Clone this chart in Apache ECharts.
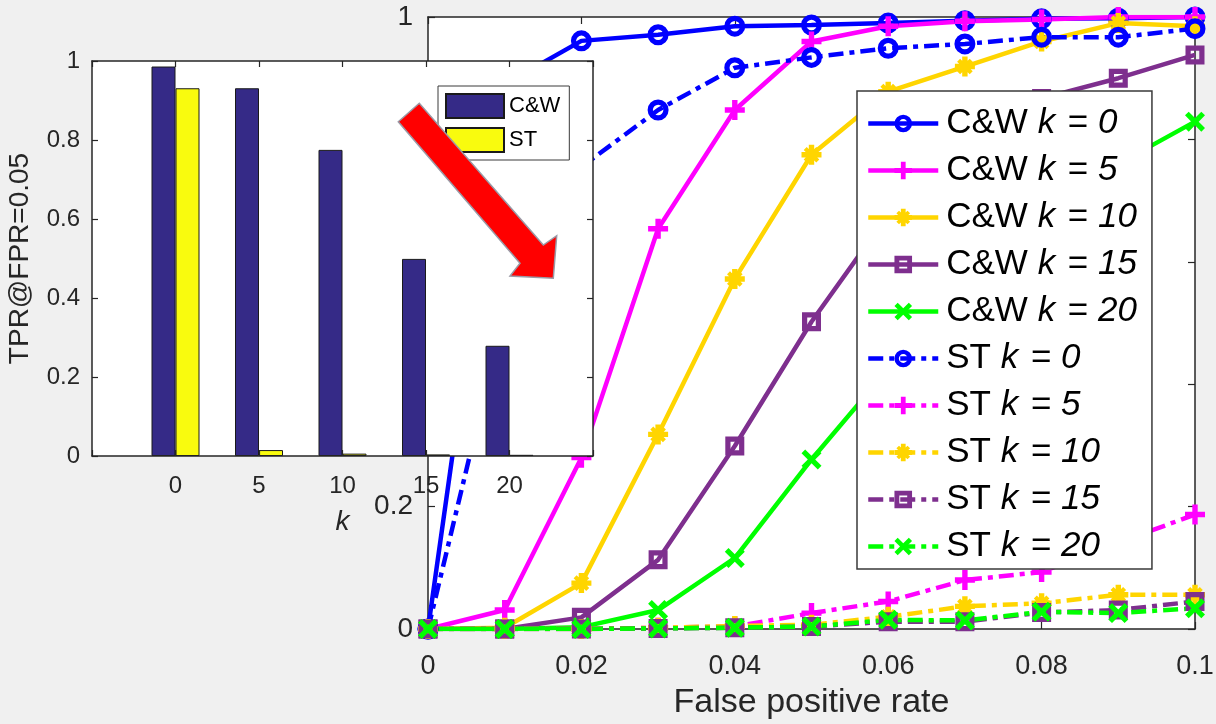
<!DOCTYPE html>
<html><head><meta charset="utf-8">
<script src="https://cdn.jsdelivr.net/npm/echarts@6/dist/echarts.min.js"></script>
<style>html,body{margin:0;padding:0;background:#f0f0f0}#c{width:1216px;height:724px}</style>
</head><body><div id="c"></div>
<script>
// ---- main ROC data (x = false positive rate) ----
const fpr   = [0, 0.01, 0.02, 0.03, 0.04, 0.05, 0.06, 0.07, 0.08, 0.09, 0.1];
const cwK0  = [0, 0.89, 0.961, 0.971, 0.985, 0.987, 0.99, 0.994, 0.997, 0.998, 1.0];
const cwK5  = [0, 0.031, 0.28, 0.654, 0.848, 0.96, 0.985, 0.993, 0.996, 1.0, 1.0];
const cwK10 = [0, 0.002, 0.075, 0.318, 0.572, 0.775, 0.878, 0.919, 0.96, 0.99, 0.985];
const cwK15 = [0, 0, 0.019, 0.113, 0.299, 0.502, 0.677, 0.78, 0.867, 0.9, 0.938];
const cwK20 = [0, 0, 0.003, 0.031, 0.116, 0.277, 0.425, 0.56, 0.67, 0.76, 0.829];
const stK0  = [0, 0.52, 0.755, 0.848, 0.917, 0.934, 0.949, 0.956, 0.967, 0.967, 0.981];
const stK5  = [0, 0, 0, 0.002, 0.004, 0.026, 0.045, 0.08, 0.093, 0.141, 0.187];
const stK10 = [0, 0, 0, 0.002, 0.005, 0.007, 0.02, 0.037, 0.042, 0.056, 0.056];
const stK15 = [0, 0, 0, 0.001, 0.002, 0.004, 0.012, 0.012, 0.027, 0.031, 0.045];
const stK20 = [0, 0, 0, 0.001, 0.002, 0.004, 0.015, 0.014, 0.028, 0.026, 0.034];
const xTickLabels = ['0', '0.02', '0.04', '0.06', '0.08', '0.1'];
const yTickLabels = ['0', '0.2', '0.4', '0.6', '0.8', '1'];

// ---- inset bar data (TPR at FPR = 0.05) ----
const kValues = ['0', '5', '10', '15', '20'];
const barCW = [0.986, 0.931, 0.775, 0.499, 0.279];
const barST = [0.931, 0.015, 0.006, 0.004, 0.003];
const barYTicks = ['0', '0.2', '0.4', '0.6', '0.8', '1'];

const FONT = 'Liberation Sans, Arial, Helvetica, sans-serif';
const AX = '#262626';
const COLORS = { k0: '#0000FF', k5: '#FF00FF', k10: '#FFD500', k15: '#7E2F8E', k20: '#00FF00' };
// filled marker outlines (MATLAB-like o, +, *, s, x drawn with thick strokes)
const PLUS = 'M7.3,0H12.7V7.3H20V12.7H12.7V20H7.3V12.7H0V7.3H7.3Z';
const XSHAPE = 'M0,3.7L3.7,0L10,6.3L16.3,0L20,3.7L13.7,10L20,16.3L16.3,20L10,13.7L3.7,20L0,16.3L6.3,10Z';
const XSMALL = 'M2.2,5.2L5.2,2.2L10,7L14.8,2.2L17.8,5.2L13,10L17.8,14.8L14.8,17.8L10,13L5.2,17.8L2.2,14.8L7,10Z';
const SYM = {
  k0: 'path://M0,10A10,10 0 1,1 20,10A10,10 0 1,1 0,10ZM5,10A5,5 0 1,0 15,10A5,5 0 1,0 5,10Z',
  k5: 'path://' + PLUS,
  k10: 'path://' + PLUS + XSMALL,
  k15: 'path://M0,0H20V20H0ZM5.5,5.5V14.5H14.5V5.5Z',
  k20: 'path://' + XSHAPE
};
const SYMSIZE = { k0: 21, k5: 20, k10: 20, k15: 19, k20: 20 };
const DASHDOT = [15, 6, 5, 6];

const mainSets = [
  ['C&W k = 0', cwK0, 'k0', 'solid'],
  ['C&W k = 5', cwK5, 'k5', 'solid'],
  ['C&W k = 10', cwK10, 'k10', 'solid'],
  ['C&W k = 15', cwK15, 'k15', 'solid'],
  ['C&W k = 20', cwK20, 'k20', 'solid'],
  ['ST k = 0', stK0, 'k0', DASHDOT],
  ['ST k = 5', stK5, 'k5', DASHDOT],
  ['ST k = 10', stK10, 'k10', DASHDOT],
  ['ST k = 15', stK15, 'k15', DASHDOT],
  ['ST k = 20', stK20, 'k20', DASHDOT]
];

const lineSeries = mainSets.map(([name, vals, k, dash]) => ({
  name, type: 'line', xAxisIndex: 0, yAxisIndex: 0, z: 2,
  data: fpr.map((x, i) => [x, vals[i]]),
  symbol: SYM[k], symbolSize: SYMSIZE[k], showSymbol: true, showAllSymbol: true,
  color: COLORS[k],
  lineStyle: { color: COLORS[k], width: 4.5, type: dash, cap: 'butt' },
  itemStyle: { color: COLORS[k], borderWidth: 0 },
  emphasis: { disabled: true }, animation: false
}));

const barCats = ['-5'].concat(kValues, ['25']);
const barSeries = [
  { name: 'C&W', data: ['-'].concat(barCW, ['-']), color: '#352A87' },
  { name: 'ST', data: ['-'].concat(barST, ['-']), color: '#F9FB0E' }
].map(b => ({
  name: b.name, type: 'bar', xAxisIndex: 2, yAxisIndex: 2, z: 11,
  data: b.data, barWidth: 24, barGap: '0%',
  itemStyle: { color: b.color, borderColor: '#1a1a1a', borderWidth: 1 },
  emphasis: { disabled: true }, animation: false
}));

const axisBase = (extra) => Object.assign({
  axisLine: { show: true, onZero: false, lineStyle: { color: AX, width: 1.5 } },
  axisTick: { show: true, inside: true, length: 7, lineStyle: { color: AX, width: 1.2 } },
  splitLine: { show: false },
  axisLabel: { color: AX, fontFamily: FONT }
}, extra);

const legendFmt = name => {
  const m = name.match(/^(.*) k = (\d+)$/);
  return '{n|' + m[1] + ' }{i|k}{n| = }{i|' + m[2] + '}';
};

const option = {
  backgroundColor: '#F0F0F0',
  animation: false,
  textStyle: { fontFamily: FONT },
  grid: [
    { left: 428, top: 17, width: 767, height: 612, show: true, backgroundColor: '#fff', borderWidth: 0, z: 0, outerBoundsMode: 'none', containLabel: false },
    { left: 92, top: 61, width: 501, height: 395, show: true, backgroundColor: '#fff', borderWidth: 0, z: 10, outerBoundsMode: 'none', containLabel: false }
  ],
  xAxis: [
    axisBase({ type: 'value', gridIndex: 0, min: 0, max: 0.1, interval: 0.02, position: 'bottom',
      axisLabel: { color: AX, fontFamily: FONT, fontSize: 27, margin: 24,
        formatter: v => xTickLabels[Math.round(v / 0.02)] },
      name: 'False positive rate', nameLocation: 'middle', nameGap: 57,
      nameTextStyle: { color: AX, fontFamily: FONT, fontSize: 34 } }),
    axisBase({ type: 'value', gridIndex: 0, min: 0, max: 0.1, interval: 0.02, position: 'top',
      axisLabel: { show: false } }),
    axisBase({ type: 'category', gridIndex: 1, data: barCats, boundaryGap: false, position: 'bottom', z: 12,
      axisTick: { show: true, inside: true, length: 6, alignWithLabel: true, lineStyle: { color: AX, width: 1.2 } },
      axisLabel: { color: AX, fontFamily: FONT, fontSize: 24, margin: 18, interval: 0,
        formatter: v => (kValues.indexOf(v) >= 0 ? v : '') },
      name: 'k', nameLocation: 'middle', nameGap: 52,
      nameTextStyle: { color: AX, fontFamily: FONT, fontSize: 28, fontStyle: 'italic' } }),
    axisBase({ type: 'category', gridIndex: 1, data: barCats, boundaryGap: false, position: 'top', z: 12,
      axisTick: { show: true, inside: true, length: 6, lineStyle: { color: AX, width: 1.2 } },
      axisLabel: { show: false } })
  ],
  yAxis: [
    axisBase({ type: 'value', gridIndex: 0, min: 0, max: 1, interval: 0.2, position: 'left',
      axisLabel: { color: AX, fontFamily: FONT, fontSize: 28, margin: 15,
        formatter: v => yTickLabels[Math.round(v / 0.2)] } }),
    axisBase({ type: 'value', gridIndex: 0, min: 0, max: 1, interval: 0.2, position: 'right',
      axisLabel: { show: false } }),
    axisBase({ type: 'value', gridIndex: 1, min: 0, max: 1, interval: 0.2, position: 'left', z: 12,
      axisTick: { show: true, inside: true, length: 6, lineStyle: { color: AX, width: 1.2 } },
      axisLabel: { color: AX, fontFamily: FONT, fontSize: 24, margin: 12,
        formatter: v => barYTicks[Math.round(v / 0.2)] },
      name: 'TPR@FPR=0.05', nameLocation: 'middle', nameGap: 58,
      nameTextStyle: { color: AX, fontFamily: FONT, fontSize: 28 } }),
    axisBase({ type: 'value', gridIndex: 1, min: 0, max: 1, interval: 0.2, position: 'right', z: 12,
      axisTick: { show: true, inside: true, length: 6, lineStyle: { color: AX, width: 1.2 } },
      axisLabel: { show: false } })
  ],
  legend: [
    {
      data: mainSets.map(s => s[0]), orient: 'vertical', left: 857, top: 91, z: 4,
      itemWidth: 70, itemHeight: 22, itemGap: 12,
      padding: [15, 15, 5, 9],
      lineStyle: { width: 4.5, cap: 'butt' },
      backgroundColor: '#fff', borderColor: '#3a3a3a', borderWidth: 1.5, borderRadius: 0,
      formatter: legendFmt,
      textStyle: {
        color: '#000', fontFamily: FONT, fontSize: 35,
        rich: {
          n: { fontFamily: FONT, fontSize: 35, color: '#000', padding: [0, 0, 0, 3] },
          i: { fontFamily: FONT, fontSize: 35, color: '#000', fontStyle: 'italic' }
        }
      },
      selectedMode: false
    },
    {
      data: ['C&W', 'ST'], orient: 'vertical', left: 438, top: 86, z: 13,
      itemWidth: 58, itemHeight: 24, itemGap: 8, icon: 'rect',
      padding: [7, 9, 7, 7],
      backgroundColor: '#fff', borderColor: '#3a3a3a', borderWidth: 1, borderRadius: 0,
      textStyle: { color: '#000', fontFamily: FONT, fontSize: 22 },
      selectedMode: false
    }
  ],
  graphic: [
    {
      type: 'polygon', z: 20,
      shape: { points: [[398.3, 121.7], [419.3, 103.3], [543.3, 245], [556.7, 235.7], [553.3, 278.3], [510, 276], [520, 263.3]] },
      style: { fill: '#FF0000', stroke: '#9a9aa6', lineWidth: 1.5 }
    }
  ],
  series: lineSeries.concat(barSeries)
};

const chart = echarts.init(document.getElementById('c'), null, { renderer: 'canvas' });
chart.setOption(option);
</script>
</body></html>
